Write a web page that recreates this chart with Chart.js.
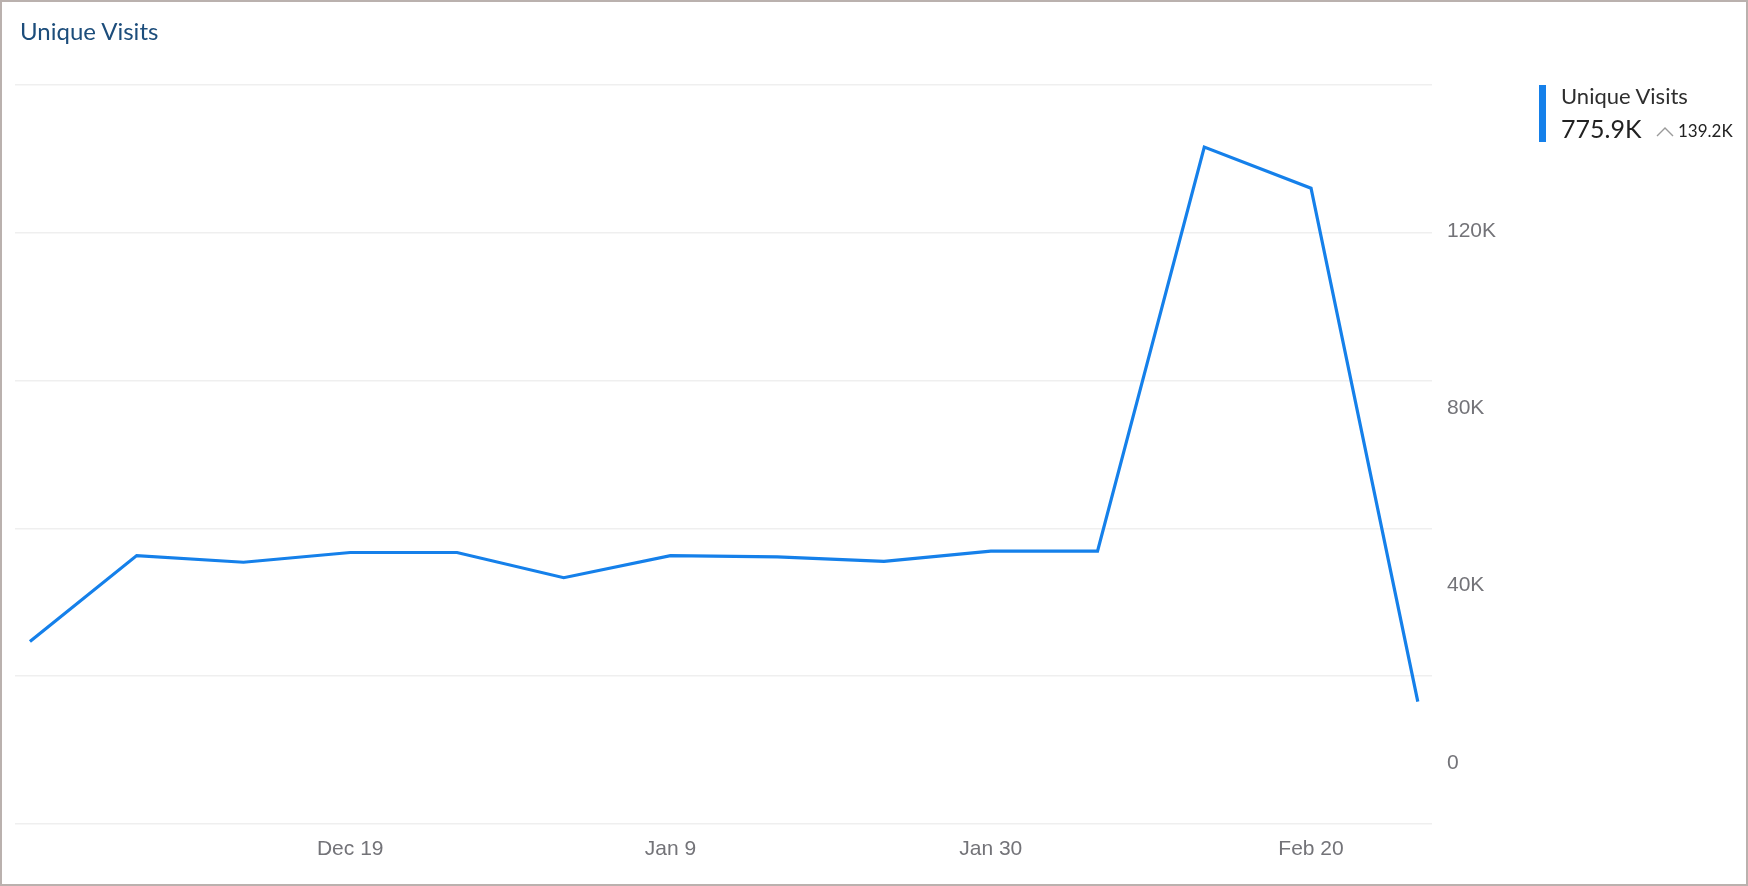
<!DOCTYPE html>
<html>
<head>
<meta charset="utf-8">
<script src="https://cdn.jsdelivr.net/npm/chart.js@4.4.1/dist/chart.umd.min.js"></script>
<style>
  html, body { margin: 0; padding: 0; background: #ffffff; }
  .frame {
    position: relative;
    width: 1748px;
    height: 886px;
    box-sizing: border-box;
    border: 2px solid #bab1ae;
    overflow: hidden;
  }
  .chart-wrap { position: absolute; left: -2px; top: -2px; width: 1748px; height: 886px; }
  .title {
    position: absolute; left: 18px; top: 17px;
    font: 24px Lato, sans-serif; line-height: 1; color: #1c4d7b;
  }
  .legend { position: absolute; left: 1537px; top: 83px; }
  .legend .bar { position: absolute; left: 0; top: 0; width: 7px; height: 57px; }
  .legend .name {
    position: absolute; left: 22px; top: 0px; white-space: nowrap;
    font: 22px Lato, sans-serif; line-height: 1; color: #2e2e2e;
  }
  .legend .total {
    position: absolute; left: 22px; top: 31px; white-space: nowrap;
    font: 25px Lato, sans-serif; line-height: 1; color: #222222;
  }
  .legend .change {
    position: absolute; left: 139px; top: 37px; white-space: nowrap;
    font: 17px Lato, sans-serif; line-height: 1; color: #222222;
  }
  .legend svg { position: absolute; left: 117px; top: 41px; }
</style>
</head>
<body>
<div class="frame">
  <div class="chart-wrap"><canvas id="visitsChart"></canvas></div>
  <div class="title">Unique Visits</div>
  <div class="legend" id="legend"></div>
</div>
<script>
// Weekly unique visits
const weeks = ['Nov 28', 'Dec 5', 'Dec 12', 'Dec 19', 'Dec 26', 'Jan 2', 'Jan 9',
               'Jan 16', 'Jan 23', 'Jan 30', 'Feb 6', 'Feb 13', 'Feb 20', 'Feb 27'];
const uniqueVisits = [27400, 46800, 45300, 47500, 47500, 41800, 46800,
                      46500, 45500, 47800, 47800, 139100, 129800, 13800];
const xTickLabels = ['Dec 19', 'Jan 9', 'Jan 30', 'Feb 20'];
const yTickValues = [0, 40000, 80000, 120000];
const seriesName = 'Unique Visits';
const totalLabel = '775.9K';
const changeLabel = '139.2K';

const lineColor = '#1580ea';
const gridColor = '#efefef';
const tickColor = '#737378';

function formatK(v) {
    return v === 0 ? '0' : (v / 1000) + 'K';
}

// Legend block on the right
function buildLegend() {
    const el = document.getElementById('legend');
    el.innerHTML =
        '<div class="bar" style="background:' + lineColor + '"></div>' +
        '<div class="name">' + seriesName + '</div>' +
        '<div class="total">' + totalLabel + '</div>' +
        '<svg width="20" height="12"><polyline points="1,10 9,2 17,10" fill="none" stroke="#9a9a9a" stroke-width="1.4"/></svg>' +
        '<div class="change">' + changeLabel + '</div>';
}

function initChart() {
    const ctx = document.getElementById('visitsChart').getContext('2d');
    const points = uniqueVisits.map((v, i) => ({ x: i, y: v }));

    new Chart(ctx, {
        type: 'line',
        data: {
            datasets: [{
                label: seriesName,
                data: points,
                borderColor: lineColor,
                borderWidth: 3.2,
                pointRadius: 0,
                tension: 0,
                fill: false
            }]
        },
        options: {
            responsive: true,
            maintainAspectRatio: false,
            animation: false,
            layout: {
                padding: { left: 15, top: 85, right: 216, bottom: 22 }
            },
            plugins: {
                legend: { display: false },
                tooltip: { enabled: false }
            },
            scales: {
                x: {
                    type: 'linear',
                    min: -0.14,
                    max: 13.133,
                    grid: { display: false },
                    border: { display: false },
                    afterBuildTicks: (axis) => {
                        axis.ticks = xTickLabels.map(l => ({ value: weeks.indexOf(l) }));
                    },
                    afterFit: (axis) => { axis.height = 40; },
                    ticks: {
                        color: tickColor,
                        padding: 5,
                        maxRotation: 0,
                        autoSkip: false,
                        font: { family: 'Liberation Sans, Arial, sans-serif', size: 21 },
                        callback: (v) => weeks[v]
                    }
                },
                y: {
                    position: 'right',
                    min: -13845,
                    max: 153130,
                    grid: { display: false, drawTicks: false },
                    border: { display: false },
                    afterBuildTicks: (axis) => {
                        axis.ticks = yTickValues.map(v => ({ value: v }));
                    },
                    afterFit: (axis) => { axis.width = 100; },
                    ticks: {
                        color: tickColor,
                        padding: 15,
                        font: { family: 'Liberation Sans, Arial, sans-serif', size: 21 },
                        callback: (v) => formatK(v)
                    }
                },
                // horizontal guide lines, spaced evenly across the plot
                guide: {
                    position: 'left',
                    min: 0,
                    max: 5,
                    grid: { color: gridColor, lineWidth: 1.5, drawTicks: false },
                    border: { display: false },
                    afterFit: (axis) => { axis.width = 0; },
                    ticks: { display: false, stepSize: 1 }
                }
            }
        }
    });
}

buildLegend();
initChart();
</script>
</body>
</html>
